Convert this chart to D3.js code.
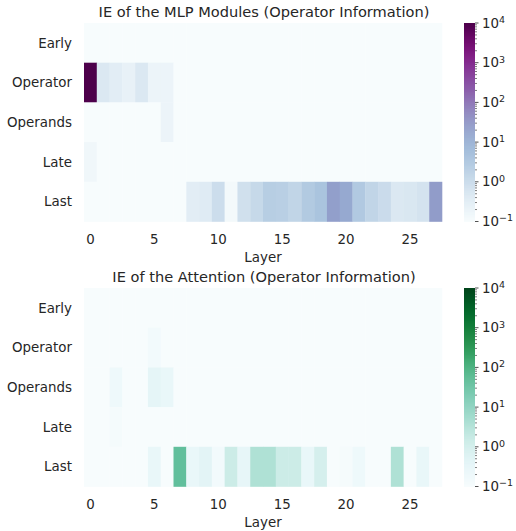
<!DOCTYPE html>
<html><head><meta charset="utf-8">
<script src="https://cdn.jsdelivr.net/npm/d3@7"></script>
<style>body{margin:0;background:#fff}svg{display:block}text{font-family:"DejaVu Sans",sans-serif;fill:#262626}</style>
</head><body><div id="c"></div>
<script>
const rows = ["Early","Operator","Operands","Late","Last"];
const layers = d3.range(28);
const xTicks = [0,5,10,15,20,25];
const cbTicks = [-1,0,1,2,3,4];
const B = 0.1;
// MLP module IE per row (28 layers)
const mlpEarly    = Array(28).fill(B);
const mlpOperator = [10000,0.5,0.35,0.25,0.5,0.2,0.2,B,B,B,B,B,B,B,B,B,B,B,B,B,B,B,B,B,B,B,B,B];
const mlpOperands = [B,B,B,B,B,B,0.2,B,B,B,B,B,B,B,B,B,B,B,B,B,B,B,B,B,B,B,B,B];
const mlpLate     = [0.15,B,B,B,B,B,B,B,B,B,B,B,B,B,B,B,B,B,B,B,B,B,B,B,B,B,B,B];
const mlpLast     = [B,B,B,B,B,B,B,B,0.35,0.4,1.0,0.13,0.85,1.3,2.5,2.3,1.6,3.2,4.5,22,15,3.3,1.6,1.1,0.5,0.55,0.7,25];
// Attention IE per row
const attEarly    = Array(28).fill(B);
const attOperator = [B,B,B,B,B,0.15,B,B,B,B,B,B,B,B,B,B,B,B,B,B,B,B,B,B,B,B,B,B];
const attOperands = [B,B,0.2,B,B,0.4,0.3,B,B,B,B,B,B,B,B,B,B,B,B,B,B,B,B,B,B,B,B,B];
const attLate     = [B,B,0.13,B,B,B,B,B,B,B,B,B,B,B,B,B,B,B,B,B,B,B,B,B,B,B,B,B];
const attLast     = [B,B,B,B,B,0.3,B,40,0.3,0.45,0.15,1.5,0.35,4,4,1.5,1.5,0.3,1,B,0.12,0.2,B,B,4,B,0.3,B];

const panels = [
  {title:"IE of the MLP Modules (Operator Information)", data:[mlpEarly,mlpOperator,mlpOperands,mlpLate,mlpLast], interp:d3.interpolateBuPu, top:23},
  {title:"IE of the Attention (Operator Information)", data:[attEarly,attOperator,attOperands,attLate,attLast], interp:d3.interpolateBuGn, top:288}
];

const W=516,H=531;
const svg = d3.select("#c").append("svg").attr("width",W).attr("height",H);
const left=84, right=442, ph=198.5;
const cbX=464, cbW=11;
const FS=13.4;
const logS = d3.scaleLog().domain([0.1,1e4]).range([0,1]).clamp(true);

panels.forEach((p,pi)=>{
  const g = svg.append("g");
  const x = d3.scaleBand().domain(layers).range([left,right]);
  const y = d3.scaleBand().domain(rows).range([p.top,p.top+ph]);
  const color = v=>p.interp(logS(v));
  rows.forEach((r,ri)=>{
    g.selectAll(null).data(p.data[ri]).enter().append("rect")
      .attr("x",(d,i)=>x(i)).attr("y",y(r))
      .attr("width",x.bandwidth()+0.3).attr("height",y.bandwidth()+0.3)
      .attr("fill",d=>color(d));
  });
  // y labels
  g.selectAll(null).data(rows).enter().append("text")
    .attr("x",left-12).attr("y",d=>y(d)+y.bandwidth()/2).attr("dy","0.35em")
    .attr("text-anchor","end").attr("font-size",FS).text(d=>d);
  // x ticks
  g.selectAll(null).data(xTicks).enter().append("text")
    .attr("x",d=>x(d)+x.bandwidth()/2).attr("y",p.top+ph+22)
    .attr("text-anchor","middle").attr("font-size",FS).text(d=>d);
  g.append("text").attr("x",(left+right)/2).attr("y",p.top+ph+40)
    .attr("text-anchor","middle").attr("font-size",FS).text("Layer");
  g.append("text").attr("x",(left+right)/2+1).attr("y",p.top-6.5)
    .attr("text-anchor","middle").attr("font-size",14.6).text(p.title);
  // colorbar
  const cy = d3.scaleLog().domain([0.1,1e4]).range([p.top+ph,p.top]);
  const n=200;
  g.selectAll(null).data(d3.range(n)).enter().append("rect")
    .attr("x",cbX).attr("width",cbW)
    .attr("y",i=>p.top+ph - (i+1)*ph/n).attr("height",ph/n+0.5)
    .attr("fill",i=>p.interp((i+0.5)/n));
  // minor ticks
  const minor=[];
  for(let e=-1;e<4;e++) for(let m=2;m<10;m++) minor.push(m*Math.pow(10,e));
  g.selectAll(null).data(minor).enter().append("line")
    .attr("x1",cbX+cbW).attr("x2",cbX+cbW+2).attr("y1",d=>cy(d)).attr("y2",d=>cy(d))
    .attr("stroke","#262626").attr("stroke-width",0.6);
  g.selectAll(null).data(cbTicks).enter().append("line")
    .attr("x1",cbX+cbW).attr("x2",cbX+cbW+3.5).attr("y1",d=>cy(Math.pow(10,d))).attr("y2",d=>cy(Math.pow(10,d)))
    .attr("stroke","#262626").attr("stroke-width",0.8);
  const tl = g.selectAll(null).data(cbTicks).enter().append("text")
    .attr("x",cbX+cbW+7).attr("y",d=>cy(Math.pow(10,d))).attr("dy","0.35em")
    .attr("font-size",FS);
  tl.append("tspan").text("10");
  tl.append("tspan").attr("dy","-0.5em").attr("font-size",9.5).text(d=>d<0?"\u2212"+(-d):d);
});
</script></body></html>
